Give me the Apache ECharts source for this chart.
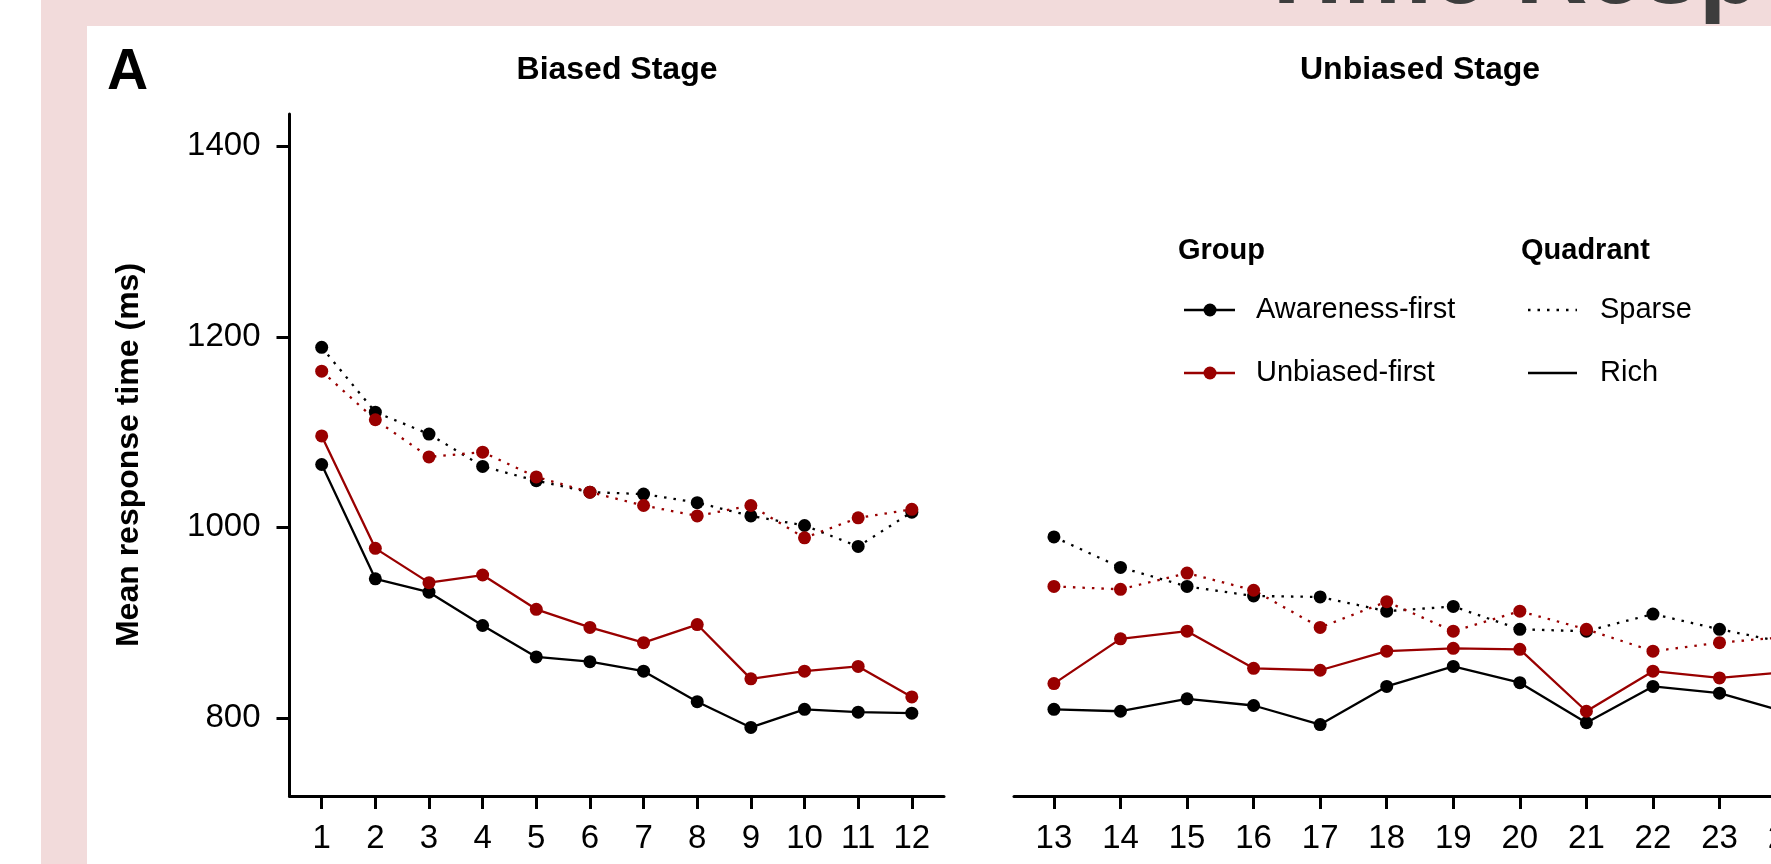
<!DOCTYPE html>
<html>
<head>
<meta charset="utf-8">
<title>Mean response time by trial</title>
<script src="https://cdn.jsdelivr.net/npm/echarts@6/dist/echarts.min.js"></script>
<style>
  html, body { margin: 0; padding: 0; background: #ffffff; overflow: hidden; width: 1771px; height: 864px; }
  #frame { position: absolute; left: 41px; top: 0; width: 1730px; height: 864px; background: #f2dbdb; }
  #sheet { position: absolute; left: 87px; top: 26px; width: 1684px; height: 838px; background: #ffffff; }
  /* the unbiased panel runs past the right edge of the page */
  #chart { position: absolute; left: 0; top: 0; width: 1840px; height: 864px; }
</style>
</head>
<body>
<div id="frame"></div>
<div id="sheet"></div>
<div id="chart"></div>
<script>
// Trials 1-12 belong to the biased stage, 13-24 to the unbiased stage.
const trials = [1, 2, 3, 4, 5, 6, 7, 8, 9, 10, 11, 12, 13, 14, 15, 16, 17, 18, 19, 20, 21, 22, 23, 24];
const stageNames = ['Biased Stage', 'Unbiased Stage'];
const stageSize = 12;

// Mean response time (ms) per trial, by group and quadrant
const awarenessSparse = [1189, 1121, 1098, 1064, 1049, 1037, 1035, 1026, 1012, 1002, 980, 1016,
                         990, 958, 938, 928, 927, 912, 917, 893, 891, 909, 893, 879];
const awarenessRich   = [1066, 946, 932, 897, 864, 859, 849, 817, 790, 809, 806, 805,
                         809, 807, 820, 813, 793, 833, 854, 837, 795, 833, 826, 806];
const unbiasedSparse  = [1164, 1113, 1074, 1079, 1053, 1037, 1023, 1012, 1023, 989, 1010, 1019,
                         938, 935, 952, 934, 895, 922, 891, 912, 893, 870, 879, 885];
const unbiasedRich    = [1096, 978, 942, 950, 914, 895, 879, 898, 841, 849, 854, 822,
                         836, 883, 891, 852, 850, 870, 873, 872, 807, 849, 842, 848];

const yTicks = [800, 1000, 1200, 1400];
const groupNames = ['Awareness-first', 'Unbiased-first'];
const quadrantNames = ['Sparse', 'Rich'];

const FONT = "'Liberation Sans', Arial, Helvetica, sans-serif";
const BLACK = '#000000';
const RED = '#990000';
const DOTTED = [2.5, 7];

const groups = [
  { name: groupNames[0], color: BLACK, sparse: awarenessSparse, rich: awarenessRich },
  { name: groupNames[1], color: RED, sparse: unbiasedSparse, rich: unbiasedRich }
];

function stagePoints(values, stage) {
  const start = stage * stageSize;
  return trials.slice(start, start + stageSize).map((t, i) => [t, values[start + i]]);
}

const series = [];
for (let s = 0; s < 2; s++) {
  // connecting lines first, so every point sits above every line
  groups.forEach(g => {
    [['sparse', DOTTED], ['rich', 'solid']].forEach(([key, dash]) => {
      series.push({
        name: g.name + ' / ' + (key === 'sparse' ? quadrantNames[0] : quadrantNames[1]),
        type: 'line',
        xAxisIndex: s, yAxisIndex: s,
        data: stagePoints(g[key], s),
        showSymbol: false,
        silent: true,
        z: 2,
        lineStyle: { color: g.color, width: 2.3, type: dash, cap: 'butt' }
      });
    });
  });
  groups.forEach(g => {
    ['sparse', 'rich'].forEach(key => {
      series.push({
        name: g.name + ' points',
        type: 'scatter',
        xAxisIndex: s, yAxisIndex: s,
        data: stagePoints(g[key], s),
        symbol: 'circle',
        symbolSize: 13,
        silent: true,
        z: 3,
        itemStyle: { color: g.color, opacity: 1 }
      });
    });
  });
}

function xAxisFor(stage) {
  const ticks = trials.slice(stage * stageSize, stage * stageSize + stageSize);
  return {
    gridIndex: stage,
    type: 'value',
    min: ticks[0] - 0.6,
    max: ticks[ticks.length - 1] + 0.6,
    splitLine: { show: false },
    axisLine: { show: true, onZero: false, lineStyle: { color: BLACK, width: 3 } },
    axisTick: { show: true, length: 13, customValues: ticks, lineStyle: { color: BLACK, width: 3 } },
    axisLabel: { customValues: ticks, color: BLACK, fontSize: 33, fontFamily: FONT, margin: 26,
                 formatter: v => String(v) }
  };
}

const yCommon = { type: 'value', min: 718, max: 1434, splitLine: { show: false } };

const legendY = [310, 373];
const legendGraphics = [
  { type: 'text', x: 1178, y: 251, style: { text: 'Group', font: 'bold 29px ' + FONT, fill: BLACK, verticalAlign: 'middle' } },
  { type: 'text', x: 1521, y: 251, style: { text: 'Quadrant', font: 'bold 29px ' + FONT, fill: BLACK, verticalAlign: 'middle' } }
];
groups.forEach((g, i) => {
  legendGraphics.push(
    { type: 'line', shape: { x1: 1184, y1: legendY[i], x2: 1235, y2: legendY[i] }, style: { stroke: g.color, lineWidth: 2.3 } },
    { type: 'circle', shape: { cx: 1210, cy: legendY[i], r: 6.5 }, style: { fill: g.color } },
    { type: 'text', x: 1256, y: legendY[i], style: { text: g.name, font: '29px ' + FONT, fill: BLACK, verticalAlign: 'middle' } }
  );
});
quadrantNames.forEach((q, i) => {
  legendGraphics.push(
    { type: 'line', shape: { x1: 1528, y1: legendY[i], x2: 1577, y2: legendY[i] },
      style: { stroke: BLACK, lineWidth: 2.3, lineDash: i === 0 ? DOTTED : null } },
    { type: 'text', x: 1600, y: legendY[i], style: { text: q, font: '29px ' + FONT, fill: BLACK, verticalAlign: 'middle' } }
  );
});

const chart = echarts.init(document.getElementById('chart'), null, { renderer: 'canvas' });
chart.setOption({
  animation: false,
  backgroundColor: 'transparent',
  grid: [
    { left: 289.5, top: 114, width: 654.5, height: 682 },
    { left: 1014, top: 114, width: 812, height: 682 }
  ],
  xAxis: [xAxisFor(0), xAxisFor(1)],
  yAxis: [
    Object.assign({}, yCommon, {
      gridIndex: 0,
      axisLine: { show: true, lineStyle: { color: BLACK, width: 3 } },
      axisTick: { show: true, length: 13, customValues: yTicks, lineStyle: { color: BLACK, width: 3 } },
      axisLabel: { customValues: yTicks, color: BLACK, fontSize: 33, fontFamily: FONT, margin: 29,
                   padding: [6, 0, 0, 0], formatter: v => String(v) }
    }),
    Object.assign({}, yCommon, { gridIndex: 1, show: false })
  ],
  series: series,
  graphic: [
    { type: 'text', x: 1256, y: -25, style: { text: 'Time Response', font: 'bold 100px ' + FONT, fill: '#3d3d3d', verticalAlign: 'middle' } },
    { type: 'text', x: 107, y: 73, style: { text: 'A', font: 'bold 57px ' + FONT, fill: BLACK, verticalAlign: 'middle' } },
    { type: 'text', x: 617, y: 70, style: { text: stageNames[0], font: 'bold 32px ' + FONT, fill: BLACK, align: 'center', verticalAlign: 'middle' } },
    { type: 'text', x: 1420, y: 70, style: { text: stageNames[1], font: 'bold 32px ' + FONT, fill: BLACK, align: 'center', verticalAlign: 'middle' } },
    { type: 'text', x: 129, y: 455, rotation: Math.PI / 2,
      style: { text: 'Mean response time (ms)', font: 'bold 32px ' + FONT, fill: BLACK, align: 'center', verticalAlign: 'middle' } }
  ].concat(legendGraphics)
});
</script>
</body>
</html>
